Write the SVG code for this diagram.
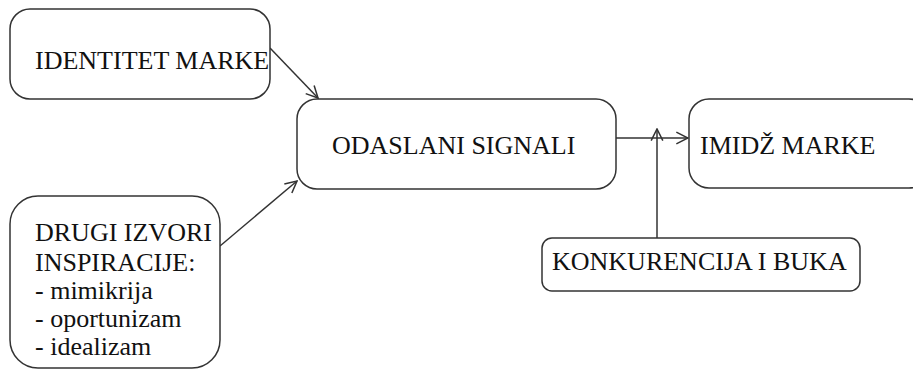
<svg xmlns="http://www.w3.org/2000/svg" width="913" height="370" viewBox="0 0 913 370">
<style>
.box{fill:#fff;stroke:#333;stroke-width:1.5}
.t{font-family:"Liberation Serif","Times New Roman",serif;font-size:26px;fill:#111}
.c{stroke:#333;stroke-width:1.5;fill:none}
</style>
<defs>
<marker id="ah" viewBox="0 0 12 12" refX="11" refY="6" markerWidth="14" markerHeight="14" markerUnits="userSpaceOnUse" orient="auto">
<path d="M1,1 L11,6 L1,11" fill="none" stroke="#333" stroke-width="1.3"/>
</marker>
</defs>
<rect width="913" height="370" fill="#fff"/>
<g id="connectors">
<line class="c" x1="270" y1="48" x2="318" y2="98" marker-end="url(#ah)"/>
<line class="c" x1="220" y1="246" x2="297" y2="181" marker-end="url(#ah)"/>
<line class="c" x1="616" y1="138" x2="688" y2="138" marker-end="url(#ah)"/>
<line class="c" x1="657" y1="238" x2="657" y2="129" marker-end="url(#ah)"/>
</g>
<g id="identitet">
<rect class="box" x="10" y="9" width="260" height="90" rx="20"/>
<text class="t" x="35" y="69">IDENTITET MARKE</text>
</g>
<g id="odaslani">
<rect class="box" x="297" y="99" width="319" height="90" rx="20"/>
<text class="t" x="332" y="154">ODASLANI SIGNALI</text>
</g>
<g id="imidz">
<rect class="box" x="689" y="99" width="240" height="89" rx="20"/>
<text class="t" x="700" y="154">IMIDŽ MARKE</text>
</g>
<g id="konkurencija">
<rect class="box" x="542" y="238" width="318" height="53" rx="10"/>
<text class="t" x="552" y="270">KONKURENCIJA I BUKA</text>
</g>
<g id="drugi">
<rect class="box" x="10" y="196" width="210" height="172" rx="28"/>
<text class="t" x="35" y="241">DRUGI IZVORI</text>
<text class="t" x="35" y="271">INSPIRACIJE:</text>
<text class="t" x="35" y="299">- mimikrija</text>
<text class="t" x="35" y="327">- oportunizam</text>
<text class="t" x="35" y="355">- idealizam</text>
</g>
</svg>
